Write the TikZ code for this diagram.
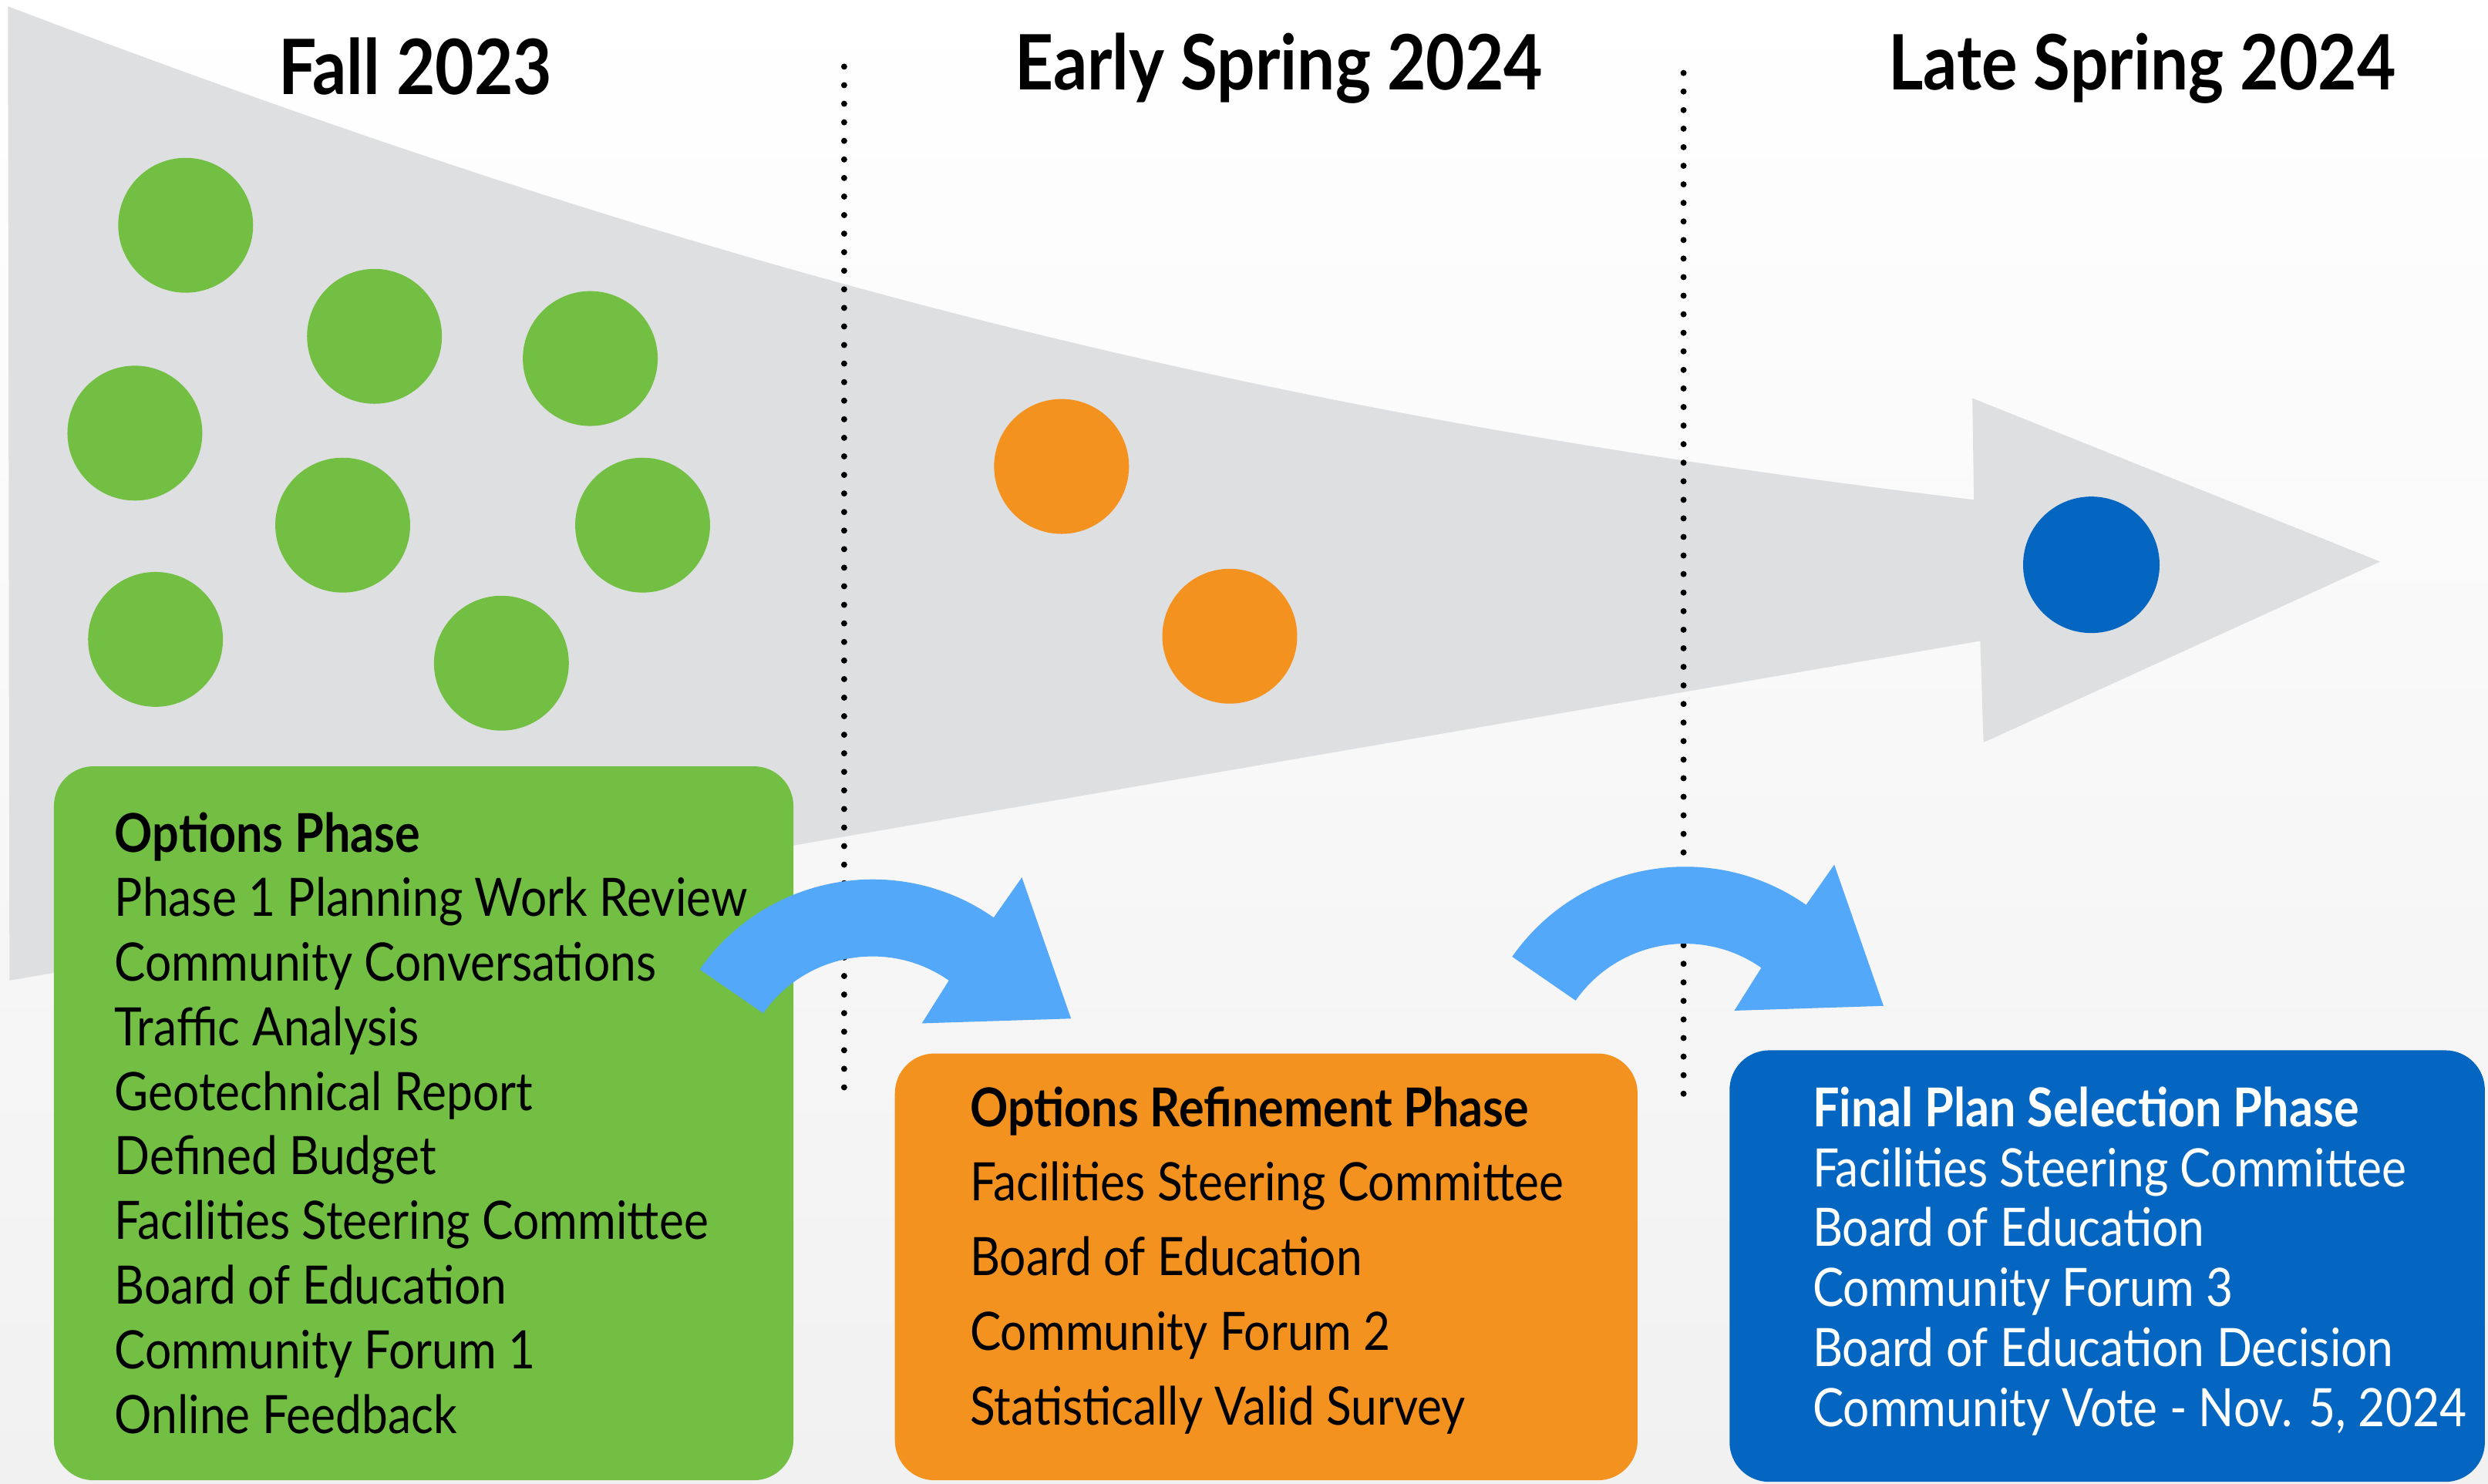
\documentclass[tikz,border=0pt]{standalone}
\usepackage{fontspec}
\setmainfont{Lato}[FakeStretch=0.88]
\definecolor{optgreen}{HTML}{72BF44}
\definecolor{reforange}{HTML}{F3921F}
\definecolor{finalblue}{HTML}{0466C0}
\definecolor{turnblue}{HTML}{53A8FA}
\definecolor{funnelgray}{HTML}{DEDFE1}
\definecolor{bggray}{HTML}{F1F1F1}

\begin{document}
\begin{tikzpicture}[x=0.02cm,y=0.02cm,
	season/.style={font=\bfseries\fontsize{27.4}{32}\selectfont},
	item/.style={anchor=base west,inner sep=0pt,font=\fontsize{19}{23}\selectfont},
	phase/.style={item,font=\bfseries\fontsize{19.2}{23}\selectfont},
	dots/.style={line width=2.2pt,line cap=round,dash pattern=on 0pt off 0.234cm},
	turn/.style={fill=turnblue}]
		\shade[top color=white,bottom color=bggray] (0,0) rectangle (1568,-935);
		\useasboundingbox (0,0) rectangle (1568,-935);
		% the big grey arrow
		\fill[funnelgray] (5,-4) .. controls (455,-175) and (794,-261) .. (1244,-315) -- (1243,-251) -- (1500,-354) -- (1250,-468) -- (1248,-404) -- (6,-618) -- cycle;
		\foreach \x/\y in {117/142,236/212,372/226,85/273,216/331,405/331,98/403,316/418}
			\fill[optgreen] (\x,-\y) circle (42.5);
		\fill[reforange] (669,-294) circle (42.5);
		\fill[reforange] (775,-401) circle (42.5);
		\fill[finalblue] (1318,-356) circle (43);
		\draw[dots] (532,-42) -- (532,-686);
		\draw[dots] (1061,-46) -- (1061,-690);
		\node[season] (fall) at (262,-42) {Fall 2023};
		\node[season] (early) at (806,-43) {Early Spring 2024};
		\node[season] (late) at (1350,-43) {Late Spring 2024};
		% phase boxes
		\fill[optgreen,rounded corners=0.5cm] (34,-483) rectangle (500,-933);
		\fill[reforange,rounded corners=0.5cm] (564,-664) rectangle (1032,-933);
		\fill[finalblue,rounded corners=0.5cm] (1090,-662) rectangle (1566,-934);
		% turning arrows
		\fill[turn] (441,-611) arc[start angle=145,end angle=55,radius=133] -- (644,-553) -- (675,-642) -- (581,-645) -- (598,-618) arc[start angle=55,end angle=145,radius=84] -- cycle;
		\fill[turn] (953,-603) arc[start angle=145,end angle=55,radius=133] -- (1156,-545) -- (1187,-634) -- (1093,-637) -- (1110,-610) arc[start angle=55,end angle=145,radius=84] -- cycle;
		% texts
		\node[phase] (opt) at (72,-537) {Options Phase};
		\foreach \t [count=\i] in {Phase 1 Planning Work Review,Community Conversations,Traffic Analysis,Geotechnical Report,Defined Budget,Facilities Steering Committee,Board of Education,Community Forum 1,Online Feedback}
			\node[item] (opt\i) at (72,{-537-40.7*\i}) {\t};
		\node[phase] (ref) at (611,-710) {Options Refinement Phase};
		\foreach \t [count=\i] in {Facilities Steering Committee,Board of Education,Community Forum 2,Statistically Valid Survey}
			\node[item] (ref\i) at (611,{-710-47*\i}) {\t};
		\node[phase,text=white] (fin) at (1142,-710) {Final Plan Selection Phase};
		\foreach \t [count=\i] in {Facilities Steering Committee,Board of Education,Community Forum 3,Board of Education Decision,{Community Vote - Nov. 5, 2024}}
			\node[item,text=white] (fin\i) at (1142,{-710-37.8*\i}) {\t};
\end{tikzpicture}
\end{document}
